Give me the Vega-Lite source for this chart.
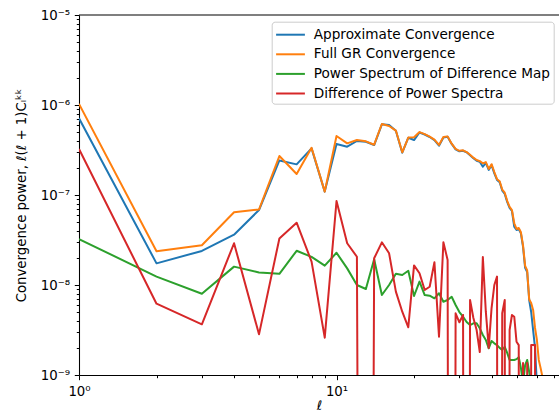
{
  "$schema": "https://vega.github.io/schema/vega-lite/v6.json",
  "width": 480,
  "height": 360,
  "autosize": {"type": "none"},
  "padding": {"left": 79, "top": 15, "right": 0, "bottom": 40},
  "background": "white",
  "config": {
    "view": {"stroke": null},
    "font": "DejaVu Sans",
    "legend": {
      "orient": "none",
      "legendX": 192.7,
      "legendY": 6.7,
      "title": null,
      "symbolType": "M-1.6,0H1.6",
      "symbolSize": 324,
      "symbolStrokeWidth": 2,
      "labelFont": "DejaVu Sans",
      "labelFontSize": 13.6,
      "labelColor": "black",
      "labelLimit": 400,
      "padding": 3,
      "rowPadding": 2.6,
      "symbolOffset": 5.8,
      "labelOffset": 13.3,
      "fillColor": "rgba(255,255,255,0.8)",
      "strokeColor": "#cccccc",
      "cornerRadius": 3
    }
  },
  "data": {"values": [
    {"l":1,"s":"Approximate Convergence","v":7.11e-7},{"l":2,"s":"Approximate Convergence","v":1.74e-8},{"l":3,"s":"Approximate Convergence","v":2.39e-8},{"l":4,"s":"Approximate Convergence","v":3.62e-8},{"l":5,"s":"Approximate Convergence","v":6.81e-8},{"l":6,"s":"Approximate Convergence","v":2.42e-7},{"l":7,"s":"Approximate Convergence","v":2.19e-7},{"l":8,"s":"Approximate Convergence","v":3.30e-7},{"l":9,"s":"Approximate Convergence","v":1.09e-7},{"l":10,"s":"Approximate Convergence","v":3.69e-7},
    {"l":11,"s":"Approximate Convergence","v":3.44e-7},{"l":12,"s":"Approximate Convergence","v":3.98e-7},{"l":13,"s":"Approximate Convergence","v":3.91e-7},{"l":14,"s":"Approximate Convergence","v":3.59e-7},{"l":15,"s":"Approximate Convergence","v":6.10e-7},{"l":16,"s":"Approximate Convergence","v":5.99e-7},{"l":17,"s":"Approximate Convergence","v":5.18e-7},{"l":18,"s":"Approximate Convergence","v":2.95e-7},{"l":19,"s":"Approximate Convergence","v":4.33e-7},{"l":20,"s":"Approximate Convergence","v":4.08e-7},
    {"l":21,"s":"Approximate Convergence","v":4.95e-7},{"l":22,"s":"Approximate Convergence","v":4.70e-7},{"l":23,"s":"Approximate Convergence","v":4.41e-7},{"l":24,"s":"Approximate Convergence","v":4.08e-7},{"l":25,"s":"Approximate Convergence","v":3.53e-7},{"l":26,"s":"Approximate Convergence","v":4.35e-7},{"l":27,"s":"Approximate Convergence","v":4.44e-7},{"l":28,"s":"Approximate Convergence","v":3.69e-7},{"l":29,"s":"Approximate Convergence","v":3.22e-7},{"l":30,"s":"Approximate Convergence","v":3.06e-7},
    {"l":31,"s":"Approximate Convergence","v":3.10e-7},{"l":32,"s":"Approximate Convergence","v":2.98e-7},{"l":33,"s":"Approximate Convergence","v":2.76e-7},{"l":34,"s":"Approximate Convergence","v":2.56e-7},{"l":35,"s":"Approximate Convergence","v":2.40e-7},{"l":36,"s":"Approximate Convergence","v":2.34e-7},{"l":37,"s":"Approximate Convergence","v":2.06e-7},{"l":38,"s":"Approximate Convergence","v":2.28e-7},{"l":39,"s":"Approximate Convergence","v":1.90e-7},{"l":40,"s":"Approximate Convergence","v":2.15e-7},
    {"l":41,"s":"Approximate Convergence","v":1.74e-7},{"l":42,"s":"Approximate Convergence","v":1.47e-7},{"l":43,"s":"Approximate Convergence","v":1.39e-7},{"l":44,"s":"Approximate Convergence","v":1.12e-7},{"l":45,"s":"Approximate Convergence","v":1.03e-7},{"l":46,"s":"Approximate Convergence","v":8.36e-8},{"l":47,"s":"Approximate Convergence","v":7.17e-8},{"l":48,"s":"Approximate Convergence","v":6.64e-8},{"l":49,"s":"Approximate Convergence","v":4.44e-8},{"l":50,"s":"Approximate Convergence","v":4.08e-8},
    {"l":51,"s":"Approximate Convergence","v":4.19e-8},{"l":52,"s":"Approximate Convergence","v":3.75e-8},{"l":53,"s":"Approximate Convergence","v":2.66e-8},{"l":54,"s":"Approximate Convergence","v":1.55e-8},{"l":55,"s":"Approximate Convergence","v":1.39e-8},{"l":56,"s":"Approximate Convergence","v":6.81e-9},{"l":57,"s":"Approximate Convergence","v":5.01e-9},{"l":58,"s":"Approximate Convergence","v":3.16e-9},{"l":59,"s":"Approximate Convergence","v":2.0e-9},{"l":60,"s":"Approximate Convergence","v":7.7e-10},{"l":61,"s":"Approximate Convergence","v":3.2e-10},

    {"l":1,"s":"Full GR Convergence","v":1.03e-6},{"l":2,"s":"Full GR Convergence","v":2.37e-8},{"l":3,"s":"Full GR Convergence","v":2.76e-8},{"l":4,"s":"Full GR Convergence","v":6.42e-8},{"l":5,"s":"Full GR Convergence","v":6.9e-8},{"l":6,"s":"Full GR Convergence","v":2.71e-7},{"l":7,"s":"Full GR Convergence","v":1.71e-7},{"l":8,"s":"Full GR Convergence","v":3.35e-7},{"l":9,"s":"Full GR Convergence","v":1.09e-7},{"l":10,"s":"Full GR Convergence","v":4.52e-7},
    {"l":11,"s":"Full GR Convergence","v":3.75e-7},{"l":12,"s":"Full GR Convergence","v":4.08e-7},{"l":13,"s":"Full GR Convergence","v":3.95e-7},{"l":14,"s":"Full GR Convergence","v":3.62e-7},{"l":15,"s":"Full GR Convergence","v":6.15e-7},{"l":16,"s":"Full GR Convergence","v":5.84e-7},{"l":17,"s":"Full GR Convergence","v":5.2e-7},{"l":18,"s":"Full GR Convergence","v":2.98e-7},{"l":19,"s":"Full GR Convergence","v":4.35e-7},{"l":20,"s":"Full GR Convergence","v":4.38e-7},
    {"l":21,"s":"Full GR Convergence","v":5.0e-7},{"l":22,"s":"Full GR Convergence","v":4.75e-7},{"l":23,"s":"Full GR Convergence","v":4.45e-7},{"l":24,"s":"Full GR Convergence","v":4.12e-7},{"l":25,"s":"Full GR Convergence","v":3.6e-7},{"l":26,"s":"Full GR Convergence","v":4.4e-7},{"l":27,"s":"Full GR Convergence","v":4.48e-7},{"l":28,"s":"Full GR Convergence","v":3.72e-7},{"l":29,"s":"Full GR Convergence","v":3.25e-7},{"l":30,"s":"Full GR Convergence","v":3.1e-7},
    {"l":31,"s":"Full GR Convergence","v":3.14e-7},{"l":32,"s":"Full GR Convergence","v":3.0e-7},{"l":33,"s":"Full GR Convergence","v":2.8e-7},{"l":34,"s":"Full GR Convergence","v":2.6e-7},{"l":35,"s":"Full GR Convergence","v":2.45e-7},{"l":36,"s":"Full GR Convergence","v":2.38e-7},{"l":37,"s":"Full GR Convergence","v":2.25e-7},{"l":38,"s":"Full GR Convergence","v":2.32e-7},{"l":39,"s":"Full GR Convergence","v":1.95e-7},{"l":40,"s":"Full GR Convergence","v":2.2e-7},
    {"l":41,"s":"Full GR Convergence","v":1.8e-7},{"l":42,"s":"Full GR Convergence","v":1.5e-7},{"l":43,"s":"Full GR Convergence","v":1.42e-7},{"l":44,"s":"Full GR Convergence","v":1.15e-7},{"l":45,"s":"Full GR Convergence","v":1.06e-7},{"l":46,"s":"Full GR Convergence","v":8.6e-8},{"l":47,"s":"Full GR Convergence","v":7.4e-8},{"l":48,"s":"Full GR Convergence","v":6.8e-8},{"l":49,"s":"Full GR Convergence","v":4.85e-8},{"l":50,"s":"Full GR Convergence","v":4.2e-8},
    {"l":51,"s":"Full GR Convergence","v":4.3e-8},{"l":52,"s":"Full GR Convergence","v":3.85e-8},{"l":53,"s":"Full GR Convergence","v":2.75e-8},{"l":54,"s":"Full GR Convergence","v":1.63e-8},{"l":55,"s":"Full GR Convergence","v":1.45e-8},{"l":56,"s":"Full GR Convergence","v":6.9e-9},{"l":57,"s":"Full GR Convergence","v":6.31e-9},{"l":58,"s":"Full GR Convergence","v":5.28e-9},{"l":59,"s":"Full GR Convergence","v":3.33e-9},{"l":60,"s":"Full GR Convergence","v":2.45e-9},
    {"l":61,"s":"Full GR Convergence","v":1.47e-9},{"l":62,"s":"Full GR Convergence","v":1.2e-9},{"l":63,"s":"Full GR Convergence","v":9.6e-10},{"l":64,"s":"Full GR Convergence","v":6.0e-10},{"l":65,"s":"Full GR Convergence","v":2.4e-10},

    {"l":1,"s":"Power Spectrum of Difference Map","v":3.24e-8},{"l":2,"s":"Power Spectrum of Difference Map","v":1.24e-8},{"l":3,"s":"Power Spectrum of Difference Map","v":8.0e-9},{"l":4,"s":"Power Spectrum of Difference Map","v":1.60e-8},{"l":5,"s":"Power Spectrum of Difference Map","v":1.38e-8},{"l":6,"s":"Power Spectrum of Difference Map","v":1.33e-8},{"l":7,"s":"Power Spectrum of Difference Map","v":2.40e-8},{"l":8,"s":"Power Spectrum of Difference Map","v":2.05e-8},{"l":9,"s":"Power Spectrum of Difference Map","v":1.64e-8},{"l":10,"s":"Power Spectrum of Difference Map","v":2.28e-8},
    {"l":11,"s":"Power Spectrum of Difference Map","v":1.53e-8},{"l":12,"s":"Power Spectrum of Difference Map","v":1.0e-8},{"l":13,"s":"Power Spectrum of Difference Map","v":9.03e-9},{"l":14,"s":"Power Spectrum of Difference Map","v":1.93e-8},{"l":15,"s":"Power Spectrum of Difference Map","v":7.74e-9},{"l":16,"s":"Power Spectrum of Difference Map","v":1.0e-8},{"l":17,"s":"Power Spectrum of Difference Map","v":1.33e-8},{"l":18,"s":"Power Spectrum of Difference Map","v":1.29e-8},{"l":19,"s":"Power Spectrum of Difference Map","v":1.44e-8},{"l":20,"s":"Power Spectrum of Difference Map","v":7.55e-9},
    {"l":21,"s":"Power Spectrum of Difference Map","v":1.09e-8},{"l":22,"s":"Power Spectrum of Difference Map","v":7.74e-9},{"l":23,"s":"Power Spectrum of Difference Map","v":7.6e-9},{"l":24,"s":"Power Spectrum of Difference Map","v":7.11e-9},{"l":25,"s":"Power Spectrum of Difference Map","v":8.09e-9},{"l":26,"s":"Power Spectrum of Difference Map","v":6.52e-9},{"l":27,"s":"Power Spectrum of Difference Map","v":6.81e-9},{"l":28,"s":"Power Spectrum of Difference Map","v":7.4e-9},{"l":29,"s":"Power Spectrum of Difference Map","v":6.0e-9},{"l":30,"s":"Power Spectrum of Difference Map","v":5.01e-9},
    {"l":31,"s":"Power Spectrum of Difference Map","v":4.44e-9},{"l":32,"s":"Power Spectrum of Difference Map","v":3.88e-9},{"l":33,"s":"Power Spectrum of Difference Map","v":3.59e-9},{"l":34,"s":"Power Spectrum of Difference Map","v":3.75e-9},{"l":35,"s":"Power Spectrum of Difference Map","v":3.75e-9},{"l":36,"s":"Power Spectrum of Difference Map","v":3.30e-9},{"l":37,"s":"Power Spectrum of Difference Map","v":2.78e-9},{"l":38,"s":"Power Spectrum of Difference Map","v":2.45e-9},{"l":39,"s":"Power Spectrum of Difference Map","v":1.98e-9},{"l":40,"s":"Power Spectrum of Difference Map","v":2.39e-9},
    {"l":41,"s":"Power Spectrum of Difference Map","v":2.25e-9},{"l":42,"s":"Power Spectrum of Difference Map","v":2.15e-9},{"l":43,"s":"Power Spectrum of Difference Map","v":2.0e-9},{"l":44,"s":"Power Spectrum of Difference Map","v":1.90e-9},{"l":45,"s":"Power Spectrum of Difference Map","v":2.06e-9},{"l":46,"s":"Power Spectrum of Difference Map","v":1.76e-9},{"l":47,"s":"Power Spectrum of Difference Map","v":1.47e-9},{"l":48,"s":"Power Spectrum of Difference Map","v":1.47e-9},{"l":49,"s":"Power Spectrum of Difference Map","v":1.47e-9},{"l":50,"s":"Power Spectrum of Difference Map","v":1.5e-9},
    {"l":51,"s":"Power Spectrum of Difference Map","v":1.58e-9},{"l":52,"s":"Power Spectrum of Difference Map","v":1.2e-9},{"l":53,"s":"Power Spectrum of Difference Map","v":8e-10},{"l":54,"s":"Power Spectrum of Difference Map","v":1.29e-9},{"l":55,"s":"Power Spectrum of Difference Map","v":1.47e-9},{"l":56,"s":"Power Spectrum of Difference Map","v":1.08e-9},{"l":57,"s":"Power Spectrum of Difference Map","v":7.7e-10},{"l":58,"s":"Power Spectrum of Difference Map","v":5e-10},

    {"l":1,"s":"Difference of Power Spectra","v":3.24e-7},{"l":2,"s":"Difference of Power Spectra","v":6.20e-9},{"l":3,"s":"Difference of Power Spectra","v":3.66e-9},{"l":4,"s":"Difference of Power Spectra","v":2.91e-8},{"l":5,"s":"Difference of Power Spectra","v":2.83e-9},{"l":6,"s":"Difference of Power Spectra","v":3.29e-8},{"l":7,"s":"Difference of Power Spectra","v":4.92e-8},{"l":8,"s":"Difference of Power Spectra","v":1.82e-8},{"l":9,"s":"Difference of Power Spectra","v":2.60e-9},{"l":10,"s":"Difference of Power Spectra","v":8.58e-8},
    {"l":11,"s":"Difference of Power Spectra","v":2.91e-8},{"l":12,"s":"Difference of Power Spectra","v":2.06e-8},{"l":13,"s":"Difference of Power Spectra","v":1e-30},{"l":14,"s":"Difference of Power Spectra","v":1.98e-8},{"l":15,"s":"Difference of Power Spectra","v":2.98e-8},{"l":16,"s":"Difference of Power Spectra","v":2.25e-8},{"l":17,"s":"Difference of Power Spectra","v":8.43e-9},{"l":18,"s":"Difference of Power Spectra","v":5.05e-9},{"l":19,"s":"Difference of Power Spectra","v":3.39e-9},{"l":20,"s":"Difference of Power Spectra","v":1.65e-8},
    {"l":21,"s":"Difference of Power Spectra","v":1.35e-8},{"l":22,"s":"Difference of Power Spectra","v":8.8e-9},{"l":23,"s":"Difference of Power Spectra","v":9.57e-9},{"l":24,"s":"Difference of Power Spectra","v":1.79e-8},{"l":25,"s":"Difference of Power Spectra","v":2.66e-9},{"l":26,"s":"Difference of Power Spectra","v":2.98e-8},{"l":27,"s":"Difference of Power Spectra","v":1.90e-8},{"l":28,"s":"Difference of Power Spectra","v":1e-30},{"l":29,"s":"Difference of Power Spectra","v":4.85e-9},{"l":30,"s":"Difference of Power Spectra","v":3.85e-9},
    {"l":31,"s":"Difference of Power Spectra","v":4.64e-9},{"l":32,"s":"Difference of Power Spectra","v":1e-30},{"l":33,"s":"Difference of Power Spectra","v":6.81e-9},{"l":34,"s":"Difference of Power Spectra","v":4.30e-9},{"l":35,"s":"Difference of Power Spectra","v":3.16e-9},{"l":36,"s":"Difference of Power Spectra","v":1.80e-9},{"l":37,"s":"Difference of Power Spectra","v":2.05e-8},{"l":38,"s":"Difference of Power Spectra","v":5.05e-9},{"l":39,"s":"Difference of Power Spectra","v":2.0e-9},{"l":40,"s":"Difference of Power Spectra","v":5.55e-9},
    {"l":41,"s":"Difference of Power Spectra","v":1.0e-8},{"l":42,"s":"Difference of Power Spectra","v":1.24e-8},{"l":43,"s":"Difference of Power Spectra","v":1e-30},{"l":44,"s":"Difference of Power Spectra","v":4.85e-9},{"l":45,"s":"Difference of Power Spectra","v":6.81e-9},{"l":46,"s":"Difference of Power Spectra","v":1e-30},{"l":47,"s":"Difference of Power Spectra","v":3.16e-9},{"l":48,"s":"Difference of Power Spectra","v":4.64e-9},{"l":49,"s":"Difference of Power Spectra","v":4.44e-9},{"l":50,"s":"Difference of Power Spectra","v":2.34e-9},
    {"l":51,"s":"Difference of Power Spectra","v":2.15e-9},{"l":52,"s":"Difference of Power Spectra","v":1e-30},{"l":53,"s":"Difference of Power Spectra","v":1.36e-9},{"l":54,"s":"Difference of Power Spectra","v":1e-30},{"l":55,"s":"Difference of Power Spectra","v":1.36e-9},{"l":56,"s":"Difference of Power Spectra","v":1e-30},{"l":57,"s":"Difference of Power Spectra","v":2.15e-9},{"l":58,"s":"Difference of Power Spectra","v":2.15e-9},{"l":59,"s":"Difference of Power Spectra","v":2.15e-9},{"l":60,"s":"Difference of Power Spectra","v":1e-30}
  ]},
  "layer": [
    {
      "encoding": {
        "x": {
          "field": "l", "type": "quantitative",
          "scale": {"type": "log", "domain": [1, 73.1], "nice": false},
          "axis": {
            "values": [1,2,3,4,5,6,7,8,9,10,20,30,40,50,60,70],
            "labelExpr": "datum.value == 1 ? '10⁰' : datum.value == 10 ? '10¹' : ''",
            "tickSize": {"condition": {"test": "datum.value == 1 || datum.value == 10", "value": 4.7}, "value": 2.7},
            "tickColor": "black", "tickWidth": 1, "domainColor": "black", "domainWidth": 1.07,
            "labelFont": "DejaVu Sans", "labelFontSize": 13.3, "labelColor": "black", "labelPadding": 4.7,
            "labelFlush": false, "labelOverlap": false, "grid": false,
            "title": "ℓ", "titleFont": "DejaVu Sans", "titleFontSize": 13.3, "titleFontStyle": "italic",
            "titleFontWeight": "normal", "titleColor": "black", "titlePadding": 1
          }
        },
        "y": {
          "field": "v", "type": "quantitative",
          "scale": {"type": "log", "domain": [1e-9, 1e-5], "nice": false},
          "axis": {
            "values": [1e-9,2e-9,3e-9,4e-9,5e-9,6e-9,7e-9,8e-9,9e-9,1e-8,2e-8,3e-8,4e-8,5e-8,6e-8,7e-8,8e-8,9e-8,1e-7,2e-7,3e-7,4e-7,5e-7,6e-7,7e-7,8e-7,9e-7,1e-6,2e-6,3e-6,4e-6,5e-6,6e-6,7e-6,8e-6,9e-6,1e-5],
            "labelExpr": "datum.value == 1e-5 ? '10⁻⁵' : datum.value == 1e-6 ? '10⁻⁶' : datum.value == 1e-7 ? '10⁻⁷' : datum.value == 1e-8 ? '10⁻⁸' : datum.value == 1e-9 ? '10⁻⁹' : ''",
            "tickSize": {"condition": {"test": "datum.value == 1e-5 || datum.value == 1e-6 || datum.value == 1e-7 || datum.value == 1e-8 || datum.value == 1e-9", "value": 4.7}, "value": 2.7},
            "tickColor": "black", "tickWidth": 1, "domainColor": "black", "domainWidth": 1.07,
            "labelFont": "DejaVu Sans", "labelFontSize": 13.3, "labelColor": "black", "labelPadding": 4.7,
            "labelFlush": false, "labelOverlap": false, "grid": false,
            "title": "Convergence power,  ℓ(ℓ + 1)Cₗᵏᵏ", "titleFont": "DejaVu Sans", "titleFontSize": 13.3,
            "titleFontWeight": "normal", "titleColor": "black", "titlePadding": 12
          }
        },
        "color": {
          "field": "s", "type": "nominal",
          "scale": {
            "domain": ["Approximate Convergence", "Full GR Convergence", "Power Spectrum of Difference Map", "Difference of Power Spectra"],
            "range": ["#1f77b4", "#ff7f0e", "#2ca02c", "#d62728"]
          }
        }
      },
      "layer": [
        {"transform": [{"filter": "datum.s === 'Approximate Convergence'"}], "mark": {"type": "line", "clip": true, "strokeWidth": 2, "strokeJoin": "round"}},
        {"transform": [{"filter": "datum.s === 'Full GR Convergence'"}], "mark": {"type": "line", "clip": true, "strokeWidth": 2, "strokeJoin": "round"}},
        {"transform": [{"filter": "datum.s === 'Power Spectrum of Difference Map'"}], "mark": {"type": "line", "clip": true, "strokeWidth": 2, "strokeJoin": "round"}},
        {"transform": [{"filter": "datum.s === 'Difference of Power Spectra'"}], "mark": {"type": "line", "clip": true, "strokeWidth": 2, "strokeJoin": "round"}}
      ]
    },
    {
      "data": {"values": [{"top": 1e-5}]},
      "mark": {"type": "rule", "color": "black", "strokeWidth": 1.07},
      "encoding": {"y": {"field": "top", "type": "quantitative"}}
    }
  ]
}
